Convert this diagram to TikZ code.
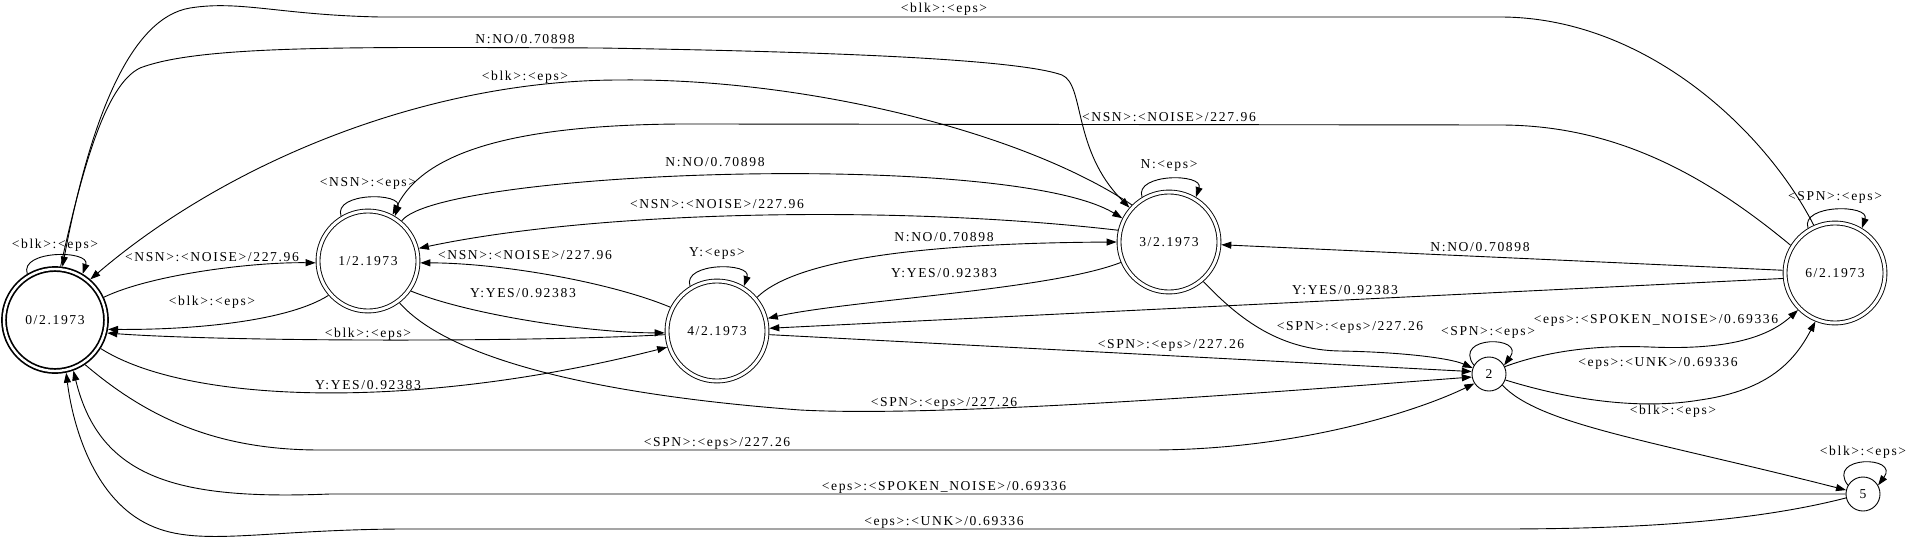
\documentclass[tikz,border=0pt]{standalone}
\usepackage{fontspec}
\usepackage{tikz}
\usetikzlibrary{arrows.meta}
\newfontfamily\lblfont[LetterSpace=12]{Liberation Serif}

\begin{document}
\begin{tikzpicture}[
      x=1pt, y=-1pt,
      >={Triangle[length=10pt,width=7pt]},
      every node/.style={font=\lblfont\fontsize{13.6}{16}\selectfont},
      state/.style={circle, draw, double, double distance=3pt, line width=0.9pt,
                    minimum size=100pt, inner sep=0pt, outer sep=2.4pt},
      first/.style={state, line width=1.7pt, double distance=2.4pt,
                    minimum size=102pt, outer sep=2.9pt},
      small/.style={circle, draw, line width=0.9pt, minimum size=34pt,
                    inner sep=0pt, outer sep=0.45pt},
      edge/.style={->, line width=0.9pt},
      lbl/.style={inner sep=0pt}
  ]
      \useasboundingbox (0,0) rectangle (1920,546);

      % Estados
      \node[first] (n0) at (55,320) {0/2.1973};
      \node[state] (n1) at (368,261) {1/2.1973};
      \node[state] (n4) at (717,331) {4/2.1973};
      \node[state] (n3) at (1169,242) {3/2.1973};
      \node[state] (n6) at (1835,273) {6/2.1973};
      \node[small] (n2) at (1489,374) {2};
      \node[small] (n5) at (1863,494) {5};

      % Laços
      \draw[edge] (n0.121) .. controls +(-8,-24) and +(8,-24) .. (n0.59);
      \draw[edge] (n1.121) .. controls +(-8,-24) and +(8,-24) .. (n1.59);
      \draw[edge] (n4.121) .. controls +(-8,-24) and +(8,-24) .. (n4.59);
      \draw[edge] (n3.121) .. controls +(-8,-24) and +(8,-24) .. (n3.59);
      \draw[edge] (n6.121) .. controls +(-8,-24) and +(8,-24) .. (n6.59);
      \draw[edge] (n2.150) .. controls +(-22,-30) and +(22,-30) .. (n2.30);
      \draw[edge] (n5.150) .. controls +(-22,-30) and +(22,-30) .. (n5.30);
      \node[lbl] (l00) at (55,245) {<blk>:<eps>};
      \node[lbl] (l11) at (368,183) {<NSN>:<eps>};
      \node[lbl] (l44) at (717,253) {Y:<eps>};
      \node[lbl] (l33) at (1169,165) {N:<eps>};
      \node[lbl] (l66) at (1835,197) {<SPN>:<eps>};
      \node[lbl] (l22) at (1488,332) {<SPN>:<eps>};
      \node[lbl] (l55) at (1863,452) {<blk>:<eps>};

      % Arcos entre 0, 1 e 4
      \draw[edge] (n0.25) .. controls (150,275) and (250,262) .. (n1.182);
      \draw[edge] (n1.221) .. controls (290,320) and (200,330) .. (n0.350);
      \draw[edge] (n4.184) .. controls (540,342) and (230,342) .. (n0.346);
      \draw[edge] (n0.328) .. controls (190,405) and (420,410) .. (n4.198);
      \draw[edge] (n1.325) .. controls (470,315) and (590,333) .. (n4.182);
      \draw[edge] (n4.153) .. controls (610,282) and (500,263) .. (n1.358);
      \node[lbl] (l01) at (212,257) {<NSN>:<NOISE>/227.96};
      \node[lbl] (l10) at (212,302) {<blk>:<eps>};
      \node[lbl] (l40) at (368,334) {<blk>:<eps>};
      \node[lbl] (l04) at (368,385) {Y:YES/0.92383};
      \node[lbl] (l14) at (523,293) {Y:YES/0.92383};
      \node[lbl] (l41) at (525,255) {<NSN>:<NOISE>/227.96};

      % Arcos do estado 3
      \draw[edge] (n1.50) .. controls (440,170) and (1010,150) .. (n3.153);
      \draw[edge] (n3.167) .. controls (900,205) and (600,210) .. (n1.14);
      \draw[edge] (n4.40) .. controls (800,255) and (950,243) .. (n3.180);
      \draw[edge] (n3.203) .. controls (1050,290) and (850,300) .. (n4.14);
      \draw[edge] (n0.84) .. controls (82,170) and (105,85) .. (140,68)
          .. controls (200,45) and (350,47) .. (600,48)
          .. controls (850,52) and (1020,60) .. (1062,75)
          .. controls (1085,85) and (1072,150) .. (n3.139);
      \draw[edge] (n3.135) .. controls (1020,130) and (800,78) .. (620,80)
          .. controls (430,80) and (230,160) .. (n0.49);
      \draw[edge] (n3.311) .. controls (1240,320) and (1280,350) .. (1340,351)
          .. controls (1400,352) and (1450,358) .. (n2.160);
      \node[lbl] (l13) at (715,162) {N:NO/0.70898};
      \node[lbl] (l31) at (717,204) {<NSN>:<NOISE>/227.96};
      \node[lbl] (l43) at (944,237) {N:NO/0.70898};
      \node[lbl] (l34) at (944,273) {Y:YES/0.92383};
      \node[lbl] (l03) at (525,39) {N:NO/0.70898};
      \node[lbl] (l30) at (525,77) {<blk>:<eps>};
      \node[lbl] (l32) at (1350,327) {<SPN>:<eps>/227.26};

      % Arcos do estado 6
      \draw[edge] (n6.177) -- (n3.357);
      \draw[edge] (n6.186) -- (n4.3);
      \draw[edge] (n6.148) .. controls (1700,170) and (1610,125) .. (1500,125)
          -- (700,124) .. controls (520,123) and (425,150) .. (n1.62);
      \draw[edge] (n6.114) .. controls (1765,130) and (1645,17) .. (1500,17)
          -- (380,17) .. controls (280,15) and (240,0) .. (190,8)
          .. controls (130,18) and (90,120) .. (n0.82);
      \node[lbl] (l63) at (1480,247) {N:NO/0.70898};
      \node[lbl] (l64) at (1345,290) {Y:YES/0.92383};
      \node[lbl] (l61) at (1169,117) {<NSN>:<NOISE>/227.96};
      \node[lbl] (l60) at (944,9) {<blk>:<eps>};

      % Arcos para o estado 2
      \draw[edge] (n4.356) -- (n2.172);
      \draw[edge] (n1.307) .. controls (450,360) and (600,395) .. (800,410)
          .. controls (950,418) and (1300,390) .. (n2.190);
      \draw[edge] (n0.304) .. controls (150,420) and (220,450) .. (320,450)
          -- (1150,450) .. controls (1300,450) and (1420,410) .. (n2.213);
      \node[lbl] (l42) at (1171,345) {<SPN>:<eps>/227.26};
      \node[lbl] (l12) at (944,403) {<SPN>:<eps>/227.26};
      \node[lbl] (l02) at (717,443) {<SPN>:<eps>/227.26};

      % Saídas de 2 e 5
      \draw[edge] (n2.25) .. controls (1550,350) and (1600,345) .. (1650,347)
          .. controls (1720,350) and (1765,340) .. (n6.225);
      \draw[edge] (n2.340) .. controls (1570,400) and (1640,410) .. (1700,400)
          .. controls (1770,390) and (1795,360) .. (n6.248);
      \draw[edge] (n2.320) .. controls (1540,425) and (1650,440) .. (n5.167);
      \draw[edge] (n5.180) -- (330,494) .. controls (180,500) and (100,480) .. (n0.290);
      \draw[edge] (n5.193) .. controls (1760,520) and (1650,529) .. (1500,529)
          -- (400,529) .. controls (250,530) and (190,550) .. (140,520)
          .. controls (90,490) and (72,420) .. (n0.282);
      \node[lbl] (l26a) at (1656,320) {<eps>:<SPOKEN\_NOISE>/0.69336};
      \node[lbl] (l26b) at (1658,363) {<eps>:<UNK>/0.69336};
      \node[lbl] (l25) at (1673,411) {<blk>:<eps>};
      \node[lbl] (l50a) at (944,487) {<eps>:<SPOKEN\_NOISE>/0.69336};
      \node[lbl] (l50b) at (944,522) {<eps>:<UNK>/0.69336};
  \end{tikzpicture}
\end{document}
